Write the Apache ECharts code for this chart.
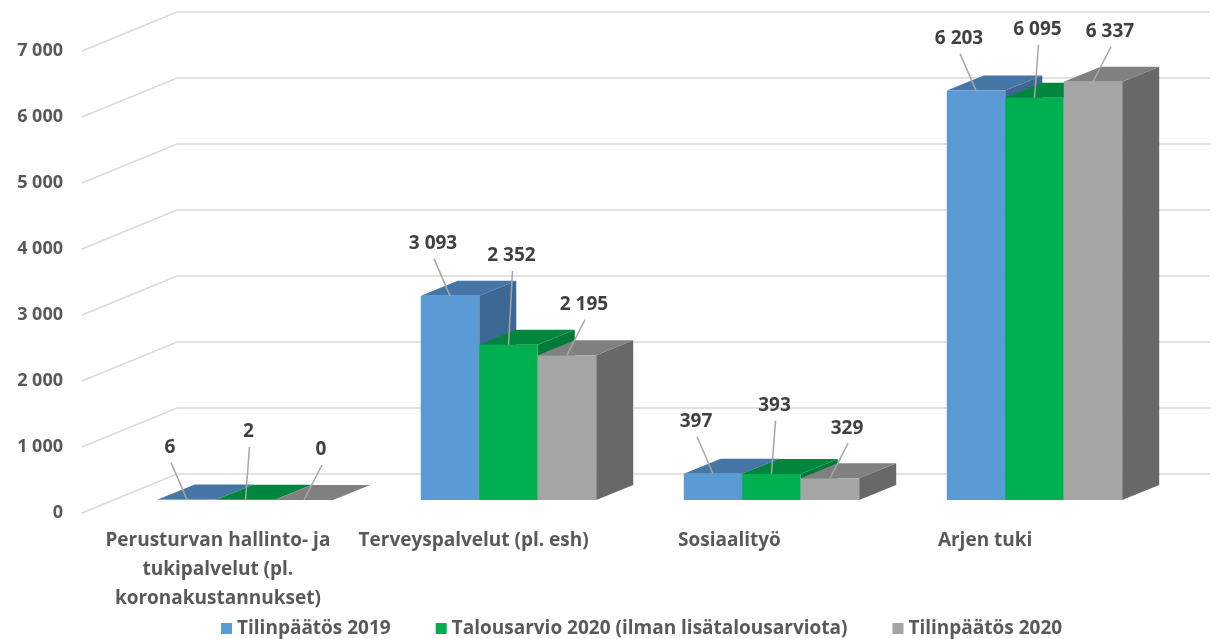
<!DOCTYPE html>
<html><head><meta charset="utf-8">
<script src="https://cdn.jsdelivr.net/npm/echarts@6/dist/echarts.min.js"></script>
<style>html,body{margin:0;padding:0;background:#fff}#c{width:1230px;height:639px}</style>
</head><body><div id="c"></div>
<script>
const categories = ['Perusturvan hallinto- ja\ntukipalvelut (pl.\nkoronakustannukset)', 'Terveyspalvelut (pl. esh)', 'Sosiaalityö', 'Arjen tuki'];
const seriesNames = ['Tilinpäätös 2019', 'Talousarvio 2020 (ilman lisätalousarviota)', 'Tilinpäätös 2020'];
const tilinpaatos2019 = [6, 3093, 397, 6203];
const talousarvio2020 = [2, 2352, 393, 6095];
const tilinpaatos2020 = [0, 2195, 329, 6337];
const yTicks = [0, 1000, 2000, 3000, 4000, 5000, 6000, 7000];

const allSeries = [tilinpaatos2019, talousarvio2020, tilinpaatos2020];
const FONT = '"Open Sans"';
const faces = [
  {front: '#5B9BD5', top: '#4676A5', side: '#3C6894'},
  {front: '#00B050', top: '#00873D', side: '#007A36'},
  {front: '#A5A5A5', top: '#808080', side: '#686868'}
];
const FRONT_OFF = [-32, 13];   // floor front edge relative to bar plane
const BACK_OFF = [63, -26];    // back wall relative to bar plane
const BAR_DEPTH = [37, -15];
const GROUP_RATIO = 0.667;
const LABEL_DX = [-17, 3, 17];
const LIFT = [52, 68, 50];

function fmt(v) { return String(v).replace(/\B(?=(\d{3})+(?!\d))/g, ' '); }

function barGeom(api, cat, s, v) {
  const top = api.coord([cat, v]);
  const base = api.coord([cat, 0]);
  const catW = api.size([1, 0])[0];
  const groupW = catW * GROUP_RATIO;
  const bw = groupW / 3;
  const xl = top[0] - groupW / 2 + s * bw;
  return {xl: xl, xr: xl + bw, cx: xl + bw / 2, yT: top[1], yB: base[1]};
}

const barSeries = allSeries.map((vals, s) => ({
  name: seriesNames[s],
  type: 'custom',
  xAxisIndex: 0, yAxisIndex: 0,
  clip: false,
  itemStyle: {color: faces[s].front},
  data: vals.map((v, i) => [i, v]),
  encode: {x: 0, y: 1},
  renderItem: function (params, api) {
    const cat = api.value(0), v = api.value(1);
    const g = barGeom(api, cat, s, v);
    const dx = BAR_DEPTH[0], dy = BAR_DEPTH[1];
    return {
      type: 'group',
      children: [
        {type: 'polygon', shape: {points: [[g.xr, g.yT], [g.xr + dx, g.yT + dy], [g.xr + dx, g.yB + dy], [g.xr, g.yB]]}, style: {fill: faces[s].side}},
        {type: 'polygon', shape: {points: [[g.xl, g.yT], [g.xr, g.yT], [g.xr + dx, g.yT + dy], [g.xl + dx, g.yT + dy]]}, style: {fill: faces[s].top}},
        {type: 'rect', shape: {x: g.xl, y: g.yT, width: g.xr - g.xl, height: g.yB - g.yT}, style: {fill: faces[s].front}}
      ]
    };
  }
}));

const labelData = [];
allSeries.forEach((vals, s) => vals.forEach((v, i) => {
  labelData.push([i, v, s]);
}));

const labelSeries = {
  type: 'custom', xAxisIndex: 0, yAxisIndex: 0, clip: false, silent: true,
  data: labelData, encode: {x: 0, y: 1}, z: 10,
  renderItem: function (params, api) {
    const cat = api.value(0), v = api.value(1), s = api.value(2);
    const g = barGeom(api, cat, s, v);
    let ly = g.yT - LIFT[s];
    if (s > 0) {
      const pv = allSeries[s - 1][cat];
      const py = api.coord([cat, pv])[1];
      ly = Math.min(ly, py - 40);
    }
    const lx = g.cx + LABEL_DX[s];
    return {
      type: 'group',
      children: [
        {type: 'line', shape: {x1: lx + 1, y1: ly + 15, x2: g.cx, y2: g.yT}, style: {stroke: '#A6A6A6', lineWidth: 1.5}},
        {type: 'text', style: {text: fmt(v), x: lx, y: ly, align: 'center', verticalAlign: 'middle', font: 'bold 19px ' + FONT, fill: '#404040'}}
      ]
    };
  }
};

const wallSeries = {
  type: 'custom', xAxisIndex: 0, yAxisIndex: 0, clip: false, silent: true, z: 0,
  data: yTicks.map(t => [0, t]), encode: {x: 0, y: 1},
  renderItem: function (params, api) {
    const cs = params.coordSys;
    const y = api.coord([0, api.value(1)])[1];
    const x0 = cs.x;
    return {
      type: 'polyline',
      shape: {points: [[x0 + FRONT_OFF[0], y + FRONT_OFF[1]], [x0 + BACK_OFF[0], y + BACK_OFF[1]], [cs.x + cs.width + 44, y + BACK_OFF[1]]]},
      style: {stroke: '#D9D9D9', lineWidth: 1.5, fill: null}
    };
  }
};

const chart = echarts.init(document.getElementById('c'), null, {renderer: 'canvas'});
chart.setOption({
  animation: false,
  backgroundColor: '#fff',
  grid: [
    {left: 114, right: 64, top: 38, bottom: 139},
    {left: 90, right: 117, top: 51, bottom: 126}
  ],
  xAxis: [
    {gridIndex: 0, type: 'category', data: categories, show: false},
    {gridIndex: 1, type: 'category', data: categories, axisLine: {show: false}, axisTick: {show: false},
     axisLabel: {interval: 0, margin: 13, fontFamily: FONT, fontWeight: 'bold', fontSize: 19, color: '#595959', lineHeight: 29, align: 'center'}}
  ],
  yAxis: [
    {gridIndex: 0, type: 'value', min: 0, max: 7000, interval: 1000, show: false},
    {gridIndex: 1, type: 'value', min: 0, max: 7000, interval: 1000, axisLine: {show: false}, axisTick: {show: false}, splitLine: {show: false},
     axisLabel: {margin: 27, fontFamily: FONT, fontWeight: 'bold', fontSize: 18, color: '#595959', formatter: v => fmt(v)}}
  ],
  legend: {
    data: seriesNames, left: 216, top: 614, icon: 'rect', itemWidth: 11, itemHeight: 11, itemGap: 45,
    textStyle: {fontFamily: FONT, fontWeight: 'bold', fontSize: 19, color: '#595959'}
  },
  series: [wallSeries].concat(barSeries, [labelSeries])
});
</script></body></html>
